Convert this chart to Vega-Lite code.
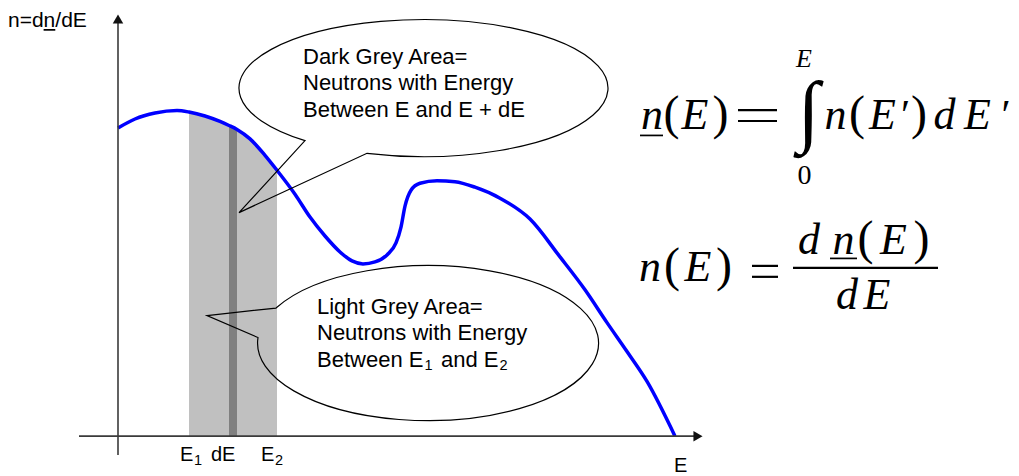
{
  "$schema": "https://vega.github.io/schema/vega-lite/v6.json",
  "width": 1019,
  "height": 476,
  "autosize": {"type": "fit", "contains": "padding"},
  "padding": 0,
  "background": "white",
  "config": {"view": {"stroke": null}},
  "datasets": {
    "curve": [
      {"E": 0, "n": 30.95}, {"E": 1.7, "n": 31.85}, {"E": 3.7, "n": 32.45}, {"E": 5.9, "n": 32.7},
      {"E": 7.1, "n": 32.55}, {"E": 8.7, "n": 32.15}, {"E": 10.2, "n": 31.6}, {"E": 11.1, "n": 31.2},
      {"E": 11.9, "n": 30.8}, {"E": 13.2, "n": 29.85}, {"E": 14.7, "n": 28.2}, {"E": 15.9, "n": 26.7},
      {"E": 17.7, "n": 24.3}, {"E": 19.2, "n": 22.0}, {"E": 20.7, "n": 20.1}, {"E": 22.2, "n": 18.5},
      {"E": 23.4, "n": 17.6}, {"E": 24.5, "n": 17.3}, {"E": 25.7, "n": 17.5}, {"E": 26.9, "n": 18.2},
      {"E": 27.8, "n": 19.4}, {"E": 28.3, "n": 21.0}, {"E": 28.7, "n": 23.1}, {"E": 29.3, "n": 24.7},
      {"E": 30.2, "n": 25.4}, {"E": 31.9, "n": 25.65}, {"E": 33.7, "n": 25.55}, {"E": 35.7, "n": 25.0},
      {"E": 38.2, "n": 23.9}, {"E": 41.2, "n": 21.8}, {"E": 44.2, "n": 18.0}, {"E": 46.7, "n": 14.7},
      {"E": 48.9, "n": 11.4}, {"E": 50.9, "n": 8.5}, {"E": 52.9, "n": 5.5}, {"E": 55.7, "n": 0}
    ],
    "axisLines": [
      {"E": 0, "n": -1.9, "E2": 0, "n2": 41.6},
      {"E": -3.9, "n": 0, "E2": 57.7, "n2": 0}
    ],
    "eqBars": [
      {"E": 62.0, "n": 32.75, "E2": 65.9, "n2": 32.75},
      {"E": 62.0, "n": 31.65, "E2": 65.9, "n2": 31.65},
      {"E": 63.4, "n": 17.1, "E2": 66.0, "n2": 17.1},
      {"E": 63.4, "n": 16.0, "E2": 66.0, "n2": 16.0},
      {"E": 67.5, "n": 16.9, "E2": 82.0, "n2": 16.9}
    ],
    "underlines": [
      {"E": 52.2, "n": 30.2, "E2": 54.5, "n2": 30.2},
      {"E": 71.2, "n": 17.85, "E2": 73.9, "n2": 17.85},
      {"E": -7.44, "n": 40.8, "E2": -6.27, "n2": 40.8}
    ],
    "labels": [
      {"E": 6.2, "n": -2.5, "t": "E"},
      {"E": 9.3, "n": -2.5, "t": "dE"},
      {"E": 14.3, "n": -2.5, "t": "E"},
      {"E": 55.6, "n": -3.6, "t": "E"}
    ],
    "subs": [
      {"E": 7.6, "n": -2.9, "t": "1"},
      {"E": 15.7, "n": -2.9, "t": "2"},
      {"E": 30.65, "n": 6.6, "t": "1"},
      {"E": 38.15, "n": 6.6, "t": "2"}
    ],
    "bubbleText": [
      {"E": 18.5, "n": 37.4, "t": "Dark Grey Area=\nNeutrons with Energy\nBetween E and E + dE"},
      {"E": 19.9, "n": 12.3, "t": "Light Grey Area=\nNeutrons with Energy"},
      {"E": 19.9, "n": 6.97, "t": "Between E"},
      {"E": 32.3, "n": 6.97, "t": "and E"}
    ],
    "eqItalic": [
      {"E": 53.4, "n": 30.8, "t": "n"}, {"E": 57.7, "n": 30.8, "t": "E"},
      {"E": 71.75, "n": 30.8, "t": "n"}, {"E": 76.45, "n": 30.8, "t": "E"},
      {"E": 82.65, "n": 30.8, "t": "d"}, {"E": 85.95, "n": 30.8, "t": "E"},
      {"E": 53.2, "n": 15.6, "t": "n"}, {"E": 58.0, "n": 15.6, "t": "E"},
      {"E": 69.1, "n": 18.3, "t": "d"}, {"E": 72.55, "n": 18.3, "t": "n"}, {"E": 77.55, "n": 18.3, "t": "E"},
      {"E": 72.9, "n": 12.8, "t": "d"}, {"E": 75.9, "n": 12.8, "t": "E"}
    ],
    "eqParens": [
      {"E": 55.35, "n": 30.8, "t": "("}, {"E": 60.25, "n": 30.8, "t": ")"},
      {"E": 73.9, "n": 30.8, "t": "("}, {"E": 80.1, "n": 30.8, "t": ")"},
      {"E": 55.4, "n": 15.6, "t": "("}, {"E": 60.6, "n": 15.6, "t": ")"},
      {"E": 74.75, "n": 18.3, "t": "("}, {"E": 80.35, "n": 18.3, "t": ")"}
    ],
    "eqPrimes": [
      {"E": 78.75, "n": 30.8, "t": "′"},
      {"E": 88.8, "n": 30.8, "t": "′"}
    ]
  },
  "encoding": {
    "x": {"field": "E", "type": "quantitative", "scale": {"domain": [-11.8, 90.1], "nice": false, "zero": false}, "axis": null},
    "y": {"field": "n", "type": "quantitative", "scale": {"domain": [-3.8, 43.8], "nice": false, "zero": false}, "axis": null}
  },
  "layer": [
    {
      "data": {"name": "curve"},
      "transform": [{"filter": "datum.E >= 7.1 && datum.E <= 15.9"}],
      "mark": {"type": "area", "interpolate": "monotone", "color": "#c0c0c0", "opacity": 1},
      "encoding": {"y2": {"datum": 0}}
    },
    {
      "data": {"name": "curve"},
      "transform": [{"filter": "datum.E >= 11.1 && datum.E <= 11.9"}],
      "mark": {"type": "area", "interpolate": "monotone", "color": "#808080", "opacity": 1},
      "encoding": {"y2": {"datum": 0}}
    },
    {
      "data": {"name": "curve"},
      "mark": {"type": "line", "interpolate": "monotone", "color": "#0000ff", "strokeWidth": 3.5},
      "encoding": {}
    },
    {
      "data": {"name": "axisLines"},
      "mark": {"type": "rule", "color": "#3a3a3a", "strokeWidth": 1.6},
      "encoding": {"x2": {"field": "E2"}, "y2": {"field": "n2"}}
    },
    {
      "data": {"values": [{"E": 0, "n": 41.9}]},
      "mark": {"type": "point", "shape": "triangle-up", "size": 110, "filled": true, "color": "#111", "opacity": 1}
    },
    {
      "data": {"values": [{"E": 58.0, "n": 0}]},
      "mark": {"type": "point", "shape": "triangle-right", "size": 110, "filled": true, "color": "#111", "opacity": 1}
    },
    {
      "data": {"values": [{"E": 30.55, "n": 34.95}]},
      "mark": {"type": "point", "shape": "M -56.5 65.2 A 184.5 68.5 0 1 0 -118.5 52.5 L -184.5 124.5 Z", "size": 4, "filled": false, "stroke": "#000", "strokeWidth": 1.2, "opacity": 1}
    },
    {
      "data": {"values": [{"E": 30.85, "n": 9.35}]},
      "mark": {"type": "point", "shape": "M -150.5 -35 A 170.5 77.5 0 1 1 -168.5 -5.5 L -219.5 -27.5 Z", "size": 4, "filled": false, "stroke": "#000", "strokeWidth": 1.2, "opacity": 1}
    },
    {
      "data": {"values": [{"E": -11.0, "n": 41.1, "t": "n=dn/dE"}]},
      "mark": {"type": "text", "font": "Liberation Sans", "fontSize": 21, "align": "left", "baseline": "alphabetic", "color": "#000"},
      "encoding": {"text": {"field": "t", "type": "nominal"}}
    },
    {
      "data": {"name": "labels"},
      "mark": {"type": "text", "font": "Liberation Sans", "fontSize": 20, "align": "left", "baseline": "alphabetic", "color": "#000"},
      "encoding": {"text": {"field": "t", "type": "nominal"}}
    },
    {
      "data": {"name": "subs"},
      "mark": {"type": "text", "font": "Liberation Sans", "fontSize": 14.5, "align": "left", "baseline": "alphabetic", "color": "#000"},
      "encoding": {"text": {"field": "t", "type": "nominal"}}
    },
    {
      "data": {"name": "bubbleText"},
      "mark": {"type": "text", "font": "Liberation Sans", "fontSize": 22, "align": "left", "baseline": "alphabetic", "lineBreak": "\n", "lineHeight": 26.5, "color": "#000"},
      "encoding": {"text": {"field": "t", "type": "nominal"}}
    },
    {
      "data": {"name": "eqItalic"},
      "mark": {"type": "text", "font": "Liberation Serif", "fontStyle": "italic", "fontSize": 44, "align": "center", "baseline": "alphabetic", "color": "#000"},
      "encoding": {"text": {"field": "t", "type": "nominal"}}
    },
    {
      "data": {"name": "eqParens"},
      "mark": {"type": "text", "font": "Liberation Serif", "fontSize": 48, "align": "center", "baseline": "alphabetic", "color": "#000"},
      "encoding": {"text": {"field": "t", "type": "nominal"}}
    },
    {
      "data": {"name": "eqPrimes"},
      "mark": {"type": "text", "font": "Liberation Serif", "fontSize": 42, "align": "center", "baseline": "alphabetic", "color": "#000"},
      "encoding": {"text": {"field": "t", "type": "nominal"}}
    },
    {
      "data": {"values": [{"E": 69.05, "n": 30.0, "t": "∫"}]},
      "mark": {"type": "text", "font": "Liberation Serif", "fontSize": 80, "align": "center", "baseline": "alphabetic", "color": "#000"},
      "encoding": {"text": {"field": "t", "type": "nominal"}}
    },
    {
      "data": {"values": [{"E": 68.6, "n": 37.1, "t": "E"}]},
      "mark": {"type": "text", "font": "Liberation Serif", "fontStyle": "italic", "fontSize": 26, "align": "center", "baseline": "alphabetic", "color": "#000"},
      "encoding": {"text": {"field": "t", "type": "nominal"}}
    },
    {
      "data": {"values": [{"E": 68.65, "n": 25.3, "t": "0"}]},
      "mark": {"type": "text", "font": "Liberation Serif", "fontSize": 28, "align": "center", "baseline": "alphabetic", "color": "#000"},
      "encoding": {"text": {"field": "t", "type": "nominal"}}
    },
    {
      "data": {"name": "eqBars"},
      "mark": {"type": "rule", "color": "#000", "strokeWidth": 2.2},
      "encoding": {"x2": {"field": "E2"}, "y2": {"field": "n2"}}
    },
    {
      "data": {"name": "underlines"},
      "mark": {"type": "rule", "color": "#000", "strokeWidth": 1.7},
      "encoding": {"x2": {"field": "E2"}, "y2": {"field": "n2"}}
    }
  ]
}
